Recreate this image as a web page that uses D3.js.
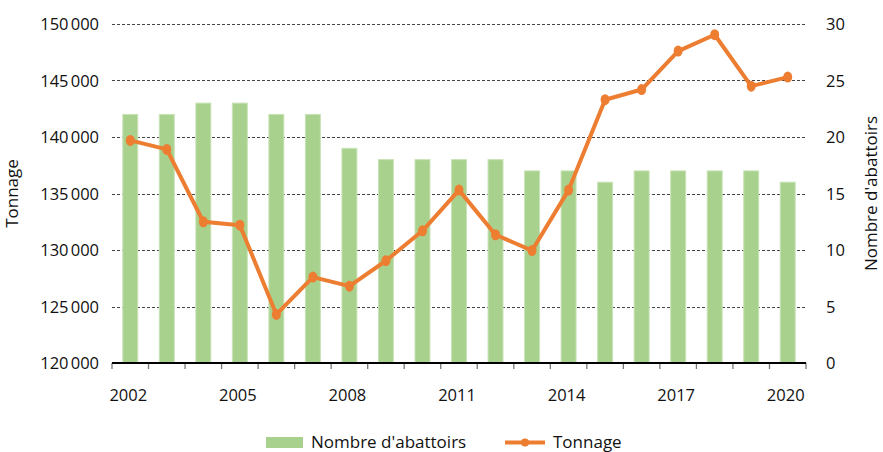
<!DOCTYPE html>
<html>
<head>
<meta charset="utf-8">
<script src="https://cdn.jsdelivr.net/npm/d3@7"></script>
<style>
  body { margin: 0; background: #fff; }
  svg { display: block; font-family: "Open Sans", sans-serif; }
</style>
</head>
<body>
<div id="chart"></div>
<script>
'use strict';

const years = [2002, 2003, 2004, 2005, 2006, 2007, 2008, 2009, 2010, 2011,
    2012, 2013, 2014, 2015, 2016, 2017, 2018, 2019, 2020];
const abattoirs = [22, 22, 23, 23, 22, 22, 19, 18, 18, 18, 18, 17, 17, 16, 17, 17, 17, 17, 16];
const tonnage = [139700, 138900, 132500, 132200, 124300, 127600, 126800, 129050, 131700, 135300,
    131350, 129950, 135300, 143300, 144200, 147600, 149050, 144500, 145300];
const leftTicks = [120000, 125000, 130000, 135000, 140000, 145000, 150000];
const rightTicks = [0, 5, 10, 15, 20, 25, 30];
const yearLabels = [2002, 2005, 2008, 2011, 2014, 2017, 2020];

const width = 883, height = 452;
const margin = { top: 24, right: 77, bottom: 89, left: 112 };
const green = '#a9d18e', orange = '#ed7d31';
const fs = 16.5;

const svg = d3.select('#chart')
    .append('svg')
    .attr('width', width)
    .attr('height', height);

const x = d3.scaleBand()
    .domain(years)
    .range([margin.left, width - margin.right])
    .paddingInner(0.59)
    .paddingOuter(0.295);

const yLeft = d3.scaleLinear().domain([120000, 150000]).range([height - margin.bottom, margin.top]);
const yRight = d3.scaleLinear().domain([0, 30]).range([height - margin.bottom, margin.top]);

const fmt = v => d3.format(',')(v).replace(/,/g, '\u202f');

// gridlines
svg.append('g')
    .selectAll('line')
    .data(leftTicks.slice(1))
    .join('line')
    .attr('x1', margin.left)
    .attr('x2', width - margin.right)
    .attr('y1', d => Math.round(yLeft(d)) + 0.5)
    .attr('y2', d => Math.round(yLeft(d)) + 0.5)
    .attr('stroke', '#444')
    .attr('stroke-dasharray', '3,2');

// bars (right scale)
svg.append('g')
    .selectAll('rect')
    .data(years)
    .join('rect')
    .attr('x', d => x(d))
    .attr('y', (d, i) => yRight(abattoirs[i]))
    .attr('width', x.bandwidth())
    .attr('height', (d, i) => yRight(0) - yRight(abattoirs[i]))
    .attr('fill', green)
    .attr('stroke', '#c9e3b8')
    .attr('stroke-width', 1);

// x axis
const base = yLeft(120000);
const half = x.step() * x.paddingInner() / 2;
const bounds = years.map(d => x(d) - half).concat([x(years[years.length - 1]) + x.bandwidth() + half]);
svg.append('g')
    .selectAll('line')
    .data(bounds)
    .join('line')
    .attr('x1', d => d)
    .attr('x2', d => d)
    .attr('y1', base)
    .attr('y2', base + 6)
    .attr('stroke', '#777')
    .attr('stroke-width', 1.3);
svg.append('line')
    .attr('x1', margin.left)
    .attr('x2', width - margin.right)
    .attr('y1', base)
    .attr('y2', base)
    .attr('stroke', '#000')
    .attr('stroke-width', 2);

svg.append('g')
    .selectAll('text')
    .data(yearLabels)
    .join('text')
    .attr('x', d => x(d) + x.bandwidth() / 2 - 2)
    .attr('y', base + 38)
    .attr('text-anchor', 'middle')
    .attr('font-size', fs)
    .attr('fill', '#111')
    .text(d => d);

// left axis labels
svg.append('g')
    .selectAll('text')
    .data(leftTicks)
    .join('text')
    .attr('x', 99)
    .attr('y', d => yLeft(d) + 6)
    .attr('text-anchor', 'end')
    .attr('font-size', fs)
    .attr('fill', '#111')
    .text(d => fmt(d));

// right axis labels
svg.append('g')
    .selectAll('text')
    .data(rightTicks)
    .join('text')
    .attr('x', 826)
    .attr('y', d => yRight(d) + 6)
    .attr('font-size', fs)
    .attr('fill', '#111')
    .text(d => d);

// axis titles
svg.append('text')
    .attr('transform', `translate(18,${(margin.top + base) / 2}) rotate(-90)`)
    .attr('text-anchor', 'middle')
    .attr('font-size', 17)
    .attr('fill', '#111')
    .text('Tonnage');
svg.append('text')
    .attr('transform', `translate(877,${(margin.top + base) / 2}) rotate(-90)`)
    .attr('text-anchor', 'middle')
    .attr('font-size', 17)
    .attr('fill', '#111')
    .text("Nombre d'abattoirs");

// tonnage line (left scale)
const cx = d => x(d) + x.bandwidth() / 2;
const line = d3.line()
    .x((d, i) => cx(years[i]))
    .y(d => yLeft(d));

svg.append('path')
    .datum(tonnage)
    .attr('d', line)
    .attr('fill', 'none')
    .attr('stroke', orange)
    .attr('stroke-width', 4)
    .attr('stroke-linejoin', 'round');

svg.append('g')
    .selectAll('ellipse')
    .data(tonnage)
    .join('ellipse')
    .attr('cx', (d, i) => cx(years[i]))
    .attr('cy', d => yLeft(d))
    .attr('rx', 4.5)
    .attr('ry', 5.5)
    .attr('fill', orange);

// legend
const legend = svg.append('g');
legend.append('rect')
    .attr('x', 266).attr('y', 437)
    .attr('width', 37).attr('height', 11)
    .attr('fill', green);
legend.append('text')
    .attr('x', 311).attr('y', 448)
    .attr('font-size', 17)
    .attr('fill', '#111')
    .text("Nombre d'abattoirs");
legend.append('line')
    .attr('x1', 505).attr('x2', 545)
    .attr('y1', 442.5).attr('y2', 442.5)
    .attr('stroke', orange)
    .attr('stroke-width', 4);
legend.append('ellipse')
    .attr('cx', 525).attr('cy', 442.5)
    .attr('rx', 4).attr('ry', 4)
    .attr('fill', orange);
legend.append('text')
    .attr('x', 553).attr('y', 448)
    .attr('font-size', 17)
    .attr('fill', '#111')
    .text('Tonnage');
</script>
</body>
</html>
